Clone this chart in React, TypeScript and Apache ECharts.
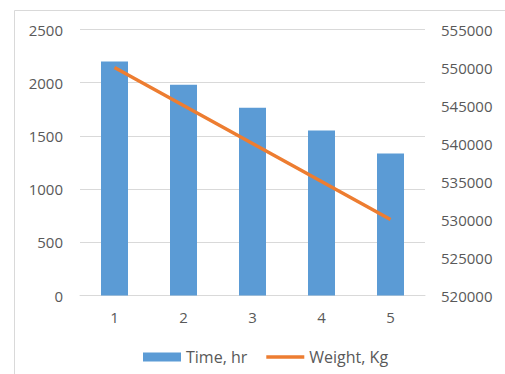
import React, { useEffect, useRef } from "react";
import * as echarts from "echarts";

// Run number on the category axis
const runs = ["1", "2", "3", "4", "5"];
// Bars: elapsed time per run (left axis)
const timeHr = [2200, 1980, 1765, 1550, 1335];
// Line: weight per run (right axis)
const weightKg = [550000, 545000, 540000, 535000, 530000];

const FONT = "Open Sans";
const TEXT = "#595959";
const GRID = "#d9d9d9";

// Flat stroke used as the line series' legend key; the leading moves keep the
// icon box 9 units tall so the stroke sits centred rather than stretched.
const LINE_KEY = "path://M0,0M0,9M0,2.75H40V6.25H0Z";

const plain = (v: number) => String(v);

export default function App() {
  const ref = useRef<HTMLDivElement>(null);

  useEffect(() => {
    document.body.style.margin = "0";
    if (!ref.current) return;
    const chart = echarts.init(ref.current, undefined, { renderer: "svg" });
    chart.setOption({
      animation: false,
      backgroundColor: "#ffffff",
      textStyle: { fontFamily: FONT, color: TEXT },
      graphic: [
        {
          type: "rect",
          shape: { x: 14.5, y: 10.5, width: 700, height: 600 },
          style: { fill: "none", stroke: GRID, lineWidth: 1 },
          silent: true,
        },
      ],
      grid: {
        left: 80,
        right: 80,
        top: 29.5,
        bottom: 78.5,
        containLabel: false,
        outerBoundsMode: "none",
      },
      legend: {
        left: 138,
        top: 344,
        itemWidth: 38,
        itemHeight: 9,
        itemGap: 19,
        textStyle: { fontFamily: FONT, fontSize: 16, color: TEXT },
        data: [
          { name: "Time, hr", icon: "rect" },
          { name: "Weight, Kg", icon: LINE_KEY },
        ],
      },
      xAxis: {
        type: "category",
        data: runs,
        axisLine: { show: true, lineStyle: { color: GRID, width: 1 } },
        axisTick: { show: false },
        axisLabel: { fontFamily: FONT, fontSize: 15, color: TEXT, margin: 14 },
      },
      yAxis: [
        {
          type: "value",
          min: 0,
          max: 2500,
          interval: 500,
          axisLine: { show: false },
          axisTick: { show: false },
          axisLabel: {
            fontFamily: FONT,
            fontSize: 15,
            color: TEXT,
            margin: 17,
            formatter: plain,
          },
          splitLine: { show: true, lineStyle: { color: GRID, width: 1 } },
        },
        {
          type: "value",
          min: 520000,
          max: 555000,
          interval: 5000,
          position: "right",
          axisLine: { show: false },
          axisTick: { show: false },
          axisLabel: {
            fontFamily: FONT,
            fontSize: 15,
            color: TEXT,
            margin: 16,
            formatter: plain,
          },
          splitLine: { show: false },
        },
      ],
      series: [
        {
          name: "Time, hr",
          type: "bar",
          yAxisIndex: 0,
          data: timeHr,
          barWidth: 27,
          itemStyle: { color: "#5b9bd5" },
        },
        {
          name: "Weight, Kg",
          type: "line",
          yAxisIndex: 1,
          data: weightKg,
          symbol: "none",
          lineStyle: { color: "#ed7d31", width: 3.5 },
          itemStyle: { color: "#ed7d31" },
        },
      ],
    });
    return () => chart.dispose();
  }, []);

  return (
    <div
      ref={ref}
      style={{ position: "absolute", left: 0, top: 0, width: 505, height: 374 }}
    />
  );
}
